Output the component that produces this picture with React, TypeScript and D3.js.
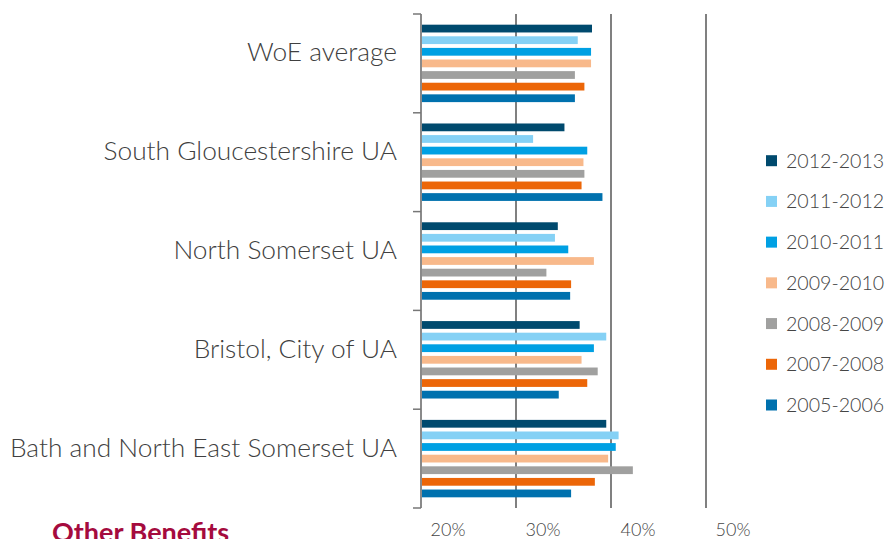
import React from "react";
import * as d3 from "d3";

const categories = [
  "WoE average",
  "South Gloucestershire UA",
  "North Somerset UA",
  "Bristol, City of UA",
  "Bath and North East Somerset UA",
];
const seriesNames = [
  "2012-2013",
  "2011-2012",
  "2010-2011",
  "2009-2010",
  "2008-2009",
  "2007-2008",
  "2005-2006",
];
const seriesColors = ["#004A6E", "#85D1F5", "#00A0E3", "#F8B98B", "#A0A09F", "#EC6608", "#0071AE"];
// values per series, in category order
const v2012_2013 = [38.0, 35.1, 34.4, 36.7, 39.5];
const v2011_2012 = [36.5, 31.8, 34.1, 39.5, 40.8];
const v2010_2011 = [37.9, 37.5, 35.5, 38.2, 40.5];
const v2009_2010 = [37.9, 37.1, 38.2, 36.9, 39.7];
const v2008_2009 = [36.2, 37.2, 33.2, 38.6, 42.3];
const v2007_2008 = [37.2, 36.9, 35.8, 37.5, 38.3];
const v2005_2006 = [36.2, 39.1, 35.7, 34.5, 35.8];
const seriesValues = [v2012_2013, v2011_2012, v2010_2011, v2009_2010, v2008_2009, v2007_2008, v2005_2006];
const xTicks = [20, 30, 40, 50];

const W = 885;
const H = 539;
const FONT = "Lato, 'Open Sans', sans-serif";

export default function App() {
  const x = d3.scaleLinear().domain([20, 50]).range([421, 706]);
  const y = d3.scaleBand<string>().domain(categories).range([14, 508]).padding(0);
  const yInner = d3
    .scaleBand<string>()
    .domain(seriesNames)
    .range([0, y.bandwidth()])
    .paddingInner(0.33)
    .paddingOuter(0.92);

  const boundaries = [...categories.map((c) => y(c) as number), 508];
  const legendY = d3.scaleLinear().domain([0, seriesNames.length - 1]).range([160.7, 405]);

  return (
    <svg
      width={W}
      height={H}
      style={{ position: "absolute", left: 0, top: 0, display: "block", background: "#fff" }}
    >
      {/* gridlines */}
      {xTicks.slice(1).map((t) => (
        <line key={"g" + t} x1={x(t)} x2={x(t)} y1={14} y2={508} stroke="#4a4a4a" strokeWidth={1.4} />
      ))}
      {/* bars */}
      {categories.map((c, ci) => (
        <g key={c} transform={`translate(0,${y(c)})`}>
          {seriesNames.map((s, si) => (
            <rect
              key={s}
              x={x(20)}
              y={yInner(s)}
              width={x(seriesValues[si][ci]) - x(20)}
              height={yInner.bandwidth()}
              fill={seriesColors[si]}
            />
          ))}
        </g>
      ))}
      {/* left axis */}
      <line x1={421} x2={421} y1={14} y2={508} stroke="#8a8a8a" strokeWidth={2} />
      {boundaries.map((b, i) => (
        <line key={"t" + i} x1={413} x2={421} y1={b} y2={b} stroke="#777" strokeWidth={1.5} />
      ))}
      {/* category labels */}
      {categories.map((c) => (
        <text
          key={"l" + c}
          x={397}
          y={(y(c) as number) + y.bandwidth() / 2 - 2}
          textAnchor="end"
          fontFamily={FONT}
          fontWeight={300}
          fontSize={26.3}
          fill="#404040"
        >
          {c}
        </text>
      ))}
      {/* x tick labels */}
      {xTicks.map((t) => (
        <text
          key={"x" + t}
          x={x(t) + 27}
          y={536}
          textAnchor="middle"
          fontFamily={FONT}
          fontWeight={300}
          fontSize={18}
          fill="#444"
        >
          {t}%
        </text>
      ))}
      {/* legend */}
      {seriesNames.map((s, i) => (
        <g key={"lg" + s} transform={`translate(0,${legendY(i)})`}>
          <rect x={766} y={-5.5} width={11} height={11} fill={seriesColors[i]} />
          <text x={786} y={7} fontFamily={FONT} fontWeight={300} fontSize={19.6} fill="#444">
            {s}
          </text>
        </g>
      ))}
      {/* section heading, cut by the page edge as in the source page */}
      <text x={52} y={542} fontFamily={FONT} fontWeight={700} fontSize={27} fill="#A50B3E">
        Other Benefits
      </text>
    </svg>
  );
}
